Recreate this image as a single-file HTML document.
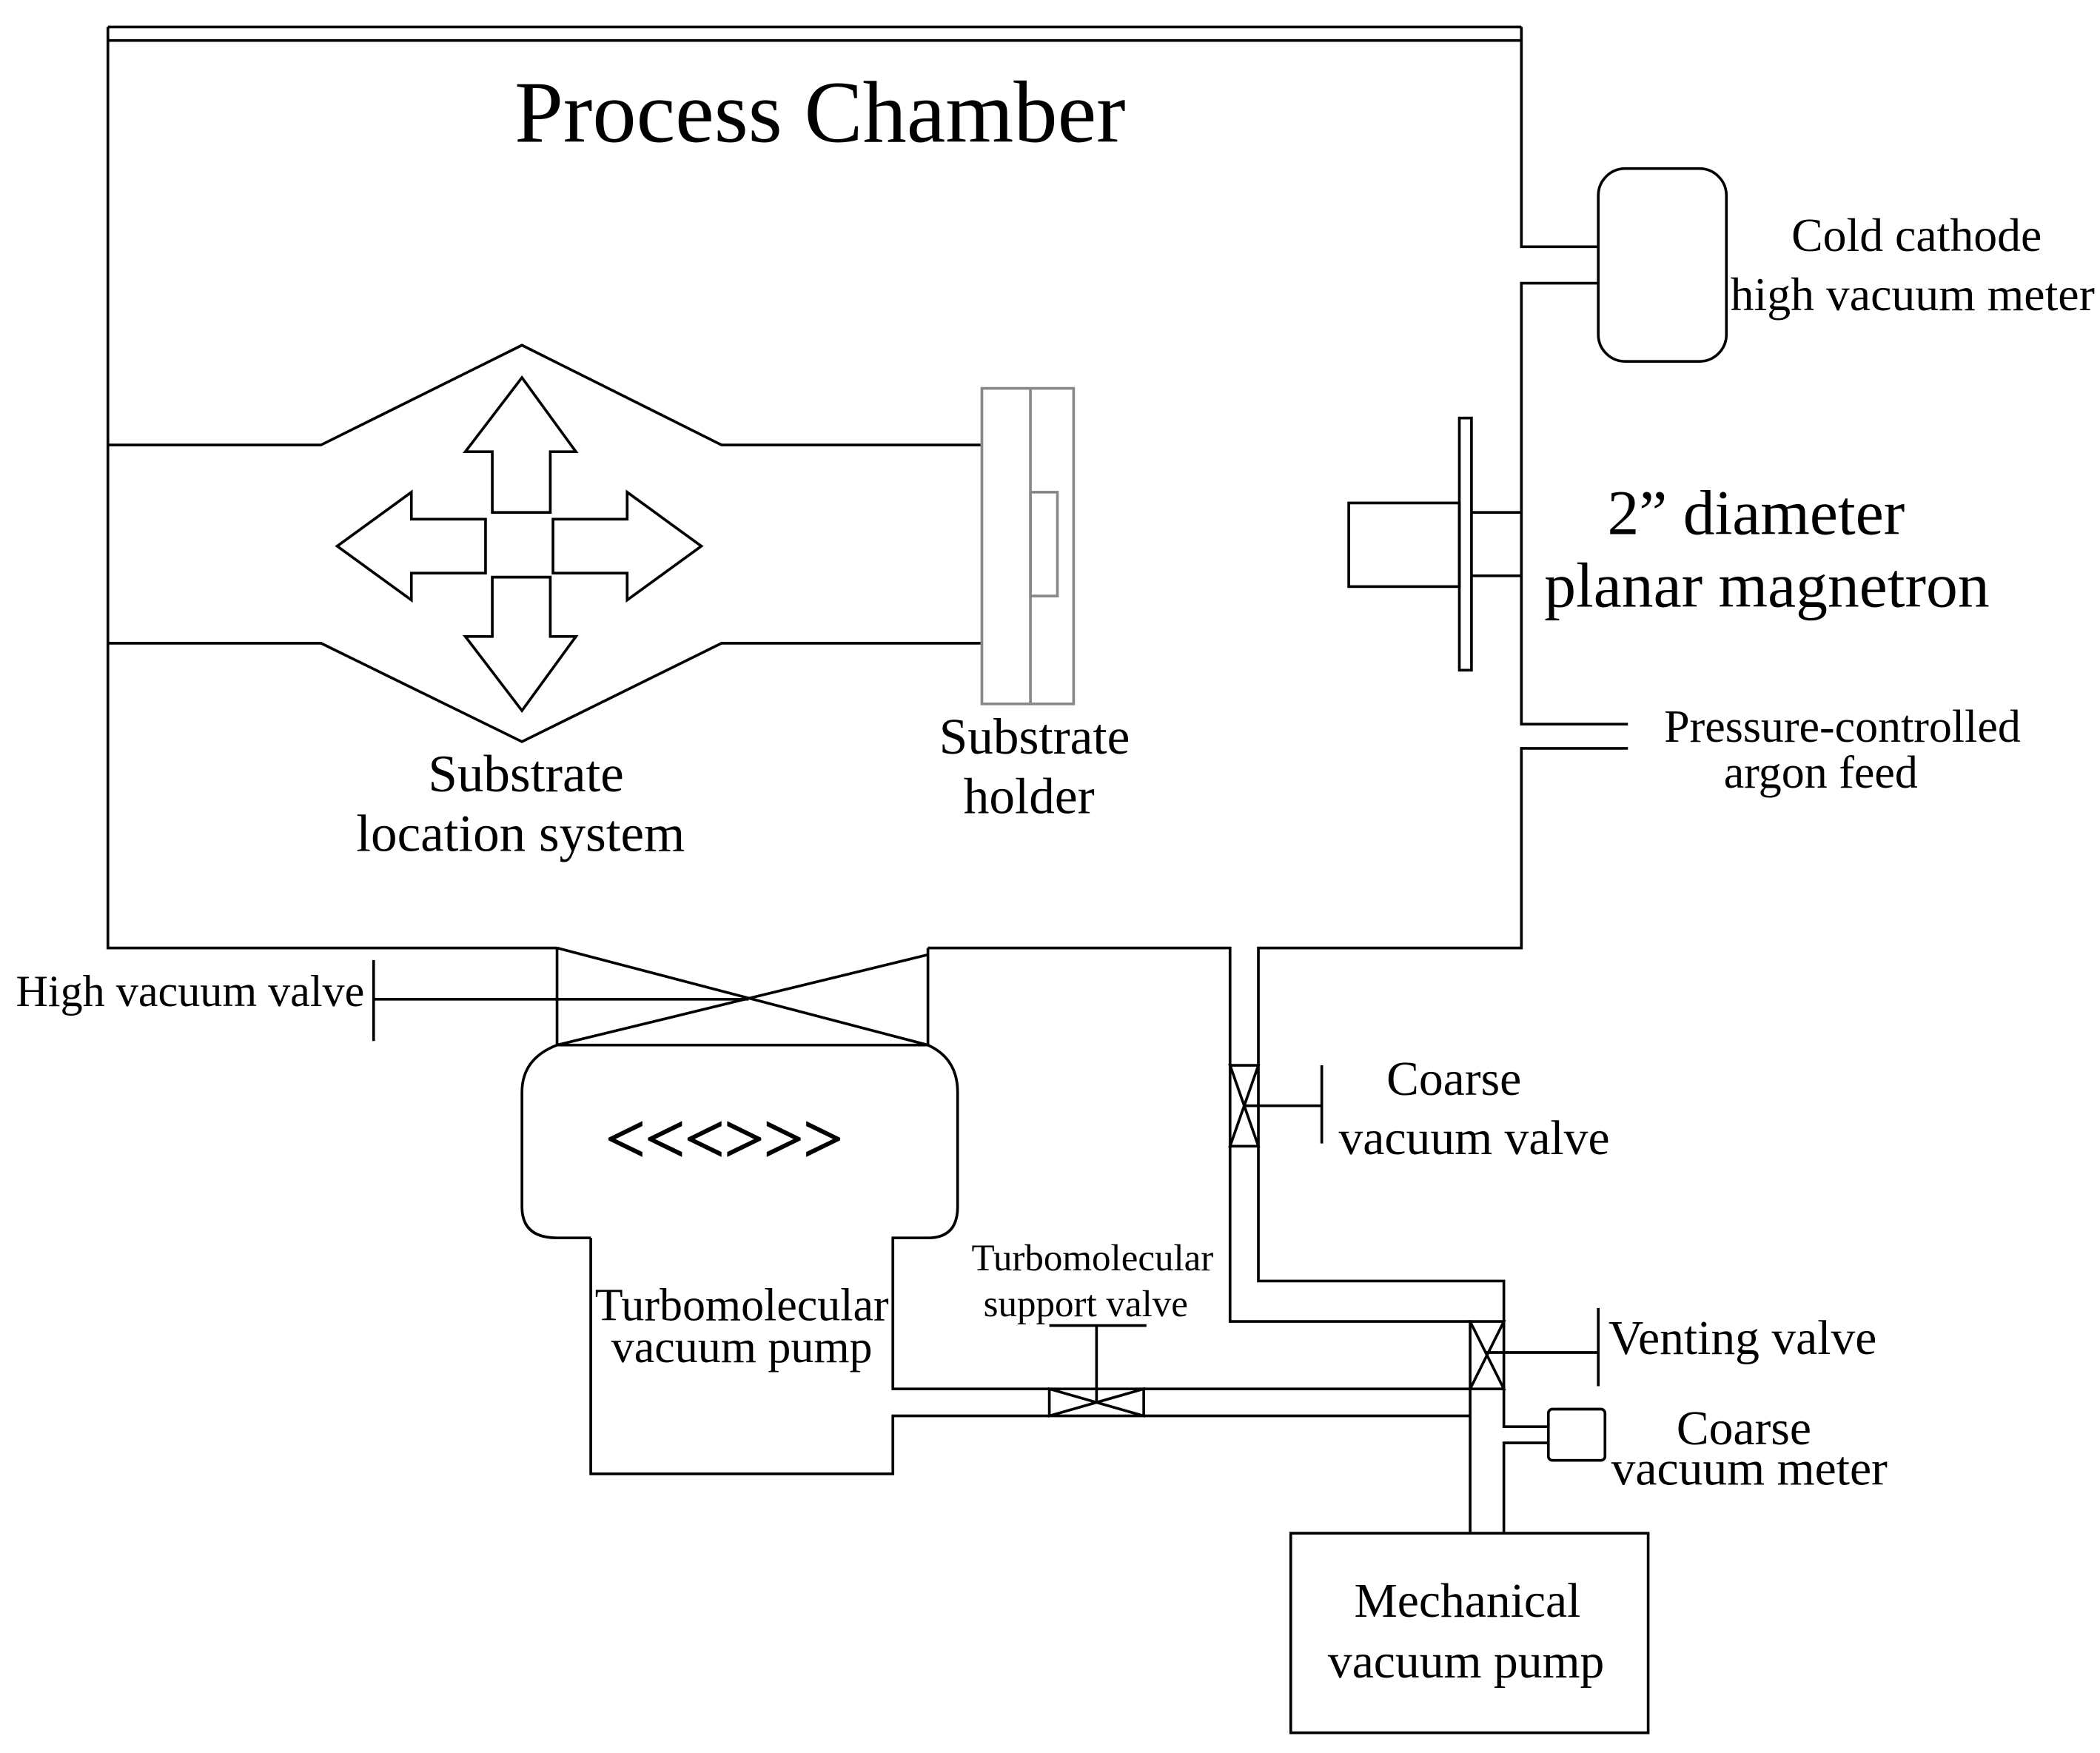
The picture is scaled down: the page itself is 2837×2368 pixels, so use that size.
<!DOCTYPE html>
<html><head><meta charset="utf-8"><style>
html,body{margin:0;padding:0;background:#fff;}
svg{display:block;}
text{font-family:"Liberation Serif",serif;fill:#000;text-anchor:middle;}
</style></head><body>
<svg width="2837" height="2368" viewBox="0 0 1557 1300" preserveAspectRatio="none" xmlns="http://www.w3.org/2000/svg">
<g fill="none" stroke="#000" stroke-width="2">
<line x1="80" y1="20" x2="1128" y2="20"/>
<line x1="80" y1="30" x2="1128" y2="30"/>
<polyline points="80,20 80,703 413,703"/>
<polyline points="1128,20 1128,183 1185,183"/>
<polyline points="1185,210 1128,210 1128,537 1207,537"/>
<polyline points="1207,555 1128,555 1128,703 933,703 933,950 1115,950 1115,1058 1148,1058"/>
<polyline points="688,703 912,703 912,980 1090,980 1090,1137"/>
<polyline points="1148,1070 1115,1070 1115,1137"/>
<rect x="1148" y="1045" width="42" height="38" rx="3"/>
<rect x="957" y="1137" width="265" height="148"/>
<rect x="1185" y="125" width="95" height="143" rx="20" fill="#fff"/>
<line x1="413" y1="703" x2="413" y2="775"/>
<line x1="688" y1="703" x2="688" y2="775"/>
<line x1="413" y1="703" x2="688" y2="775"/>
<line x1="413" y1="775" x2="688" y2="708"/>
<line x1="277" y1="741" x2="555" y2="741"/>
<line x1="277" y1="712" x2="277" y2="772"/>
<path d="M413,775 L688,775 Q710,785 710,810 L710,895 Q710,918 688,918 L662,918 L662,1030 L1090,1030 M438,918 L413,918 Q387,918 387,895 L387,810 Q387,785 413,775"/>
<polyline points="438,918 438,1093 662,1093 662,1050 1090,1050"/>
<polygon points="912,790 933,790 912,850 933,850" fill="#fff"/>
<line x1="922" y1="820" x2="980" y2="820"/>
<line x1="980" y1="790" x2="980" y2="848"/>
<polygon points="1090,980 1115,980 1090,1030 1115,1030" fill="#fff"/>
<line x1="1102" y1="1003" x2="1185" y2="1003"/>
<line x1="1185" y1="970" x2="1185" y2="1028"/>
<polygon points="778,1030 778,1050 848,1030 848,1050" fill="#fff"/>
<line x1="813" y1="983" x2="813" y2="1040"/>
<line x1="778" y1="983" x2="850" y2="983"/>
<polyline points="80,330 238,330 387,256 535,330 727,330"/>
<polyline points="80,477 238,477 387,550 535,477 727,477"/>
<polygon points="387,280 427,335 408,335 408,380 365,380 365,335 345,335"/>
<polygon points="387,527 427,472 408,472 408,428 365,428 365,472 345,472"/>
<polygon points="250,405 305,365 305,385 360,385 360,425 305,425 305,445"/>
<polygon points="520,405 465,365 465,385 410,385 410,425 465,425 465,445"/>
<rect x="1000" y="373" width="82" height="62"/>
<rect x="1082" y="310" width="9" height="187"/>
<line x1="1091" y1="380" x2="1128" y2="380"/>
<line x1="1091" y1="427" x2="1128" y2="427"/>
</g>
<g fill="none" stroke="#888" stroke-width="2">
<rect x="728" y="288" width="68" height="234"/>
<line x1="764" y1="288" x2="764" y2="522"/>
<rect x="764" y="365" width="20" height="77"/>
</g>
<text x="608" y="105" font-size="65">Process Chamber</text>
<text x="1421" y="186" font-size="35">Cold cathode</text>
<text x="1418" y="230" font-size="35">high vacuum meter</text>
<text x="1302" y="396" font-size="47">2” diameter</text>
<text x="1310" y="450" font-size="47">planar magnetron</text>
<text x="1366" y="550" font-size="34">Pressure-controlled</text>
<text x="1350" y="584" font-size="34">argon feed</text>
<text x="390" y="587" font-size="39">Substrate</text>
<text x="386" y="631" font-size="39">location system</text>
<text x="767" y="559" font-size="38">Substrate</text>
<text x="763" y="603" font-size="38">holder</text>
<text x="141" y="746" font-size="33">High vacuum valve</text>
<text x="537" y="862" font-size="52" stroke="#000" stroke-width="1">&lt;&lt;&lt;&gt;&gt;&gt;</text>
<text x="1078" y="812" font-size="36">Coarse</text>
<text x="1093" y="856" font-size="36">vacuum valve</text>
<text x="550" y="979" font-size="34">Turbomolecular</text>
<text x="550" y="1010" font-size="34">vacuum pump</text>
<text x="810" y="942" font-size="28">Turbomolecular</text>
<text x="805" y="976" font-size="28">support valve</text>
<text x="1292" y="1004" font-size="36">Venting valve</text>
<text x="1293" y="1071" font-size="36">Coarse</text>
<text x="1297" y="1101" font-size="36">vacuum meter</text>
<text x="1088" y="1199" font-size="36">Mechanical</text>
<text x="1087" y="1244" font-size="36">vacuum pump</text>
</svg>
</body></html>
